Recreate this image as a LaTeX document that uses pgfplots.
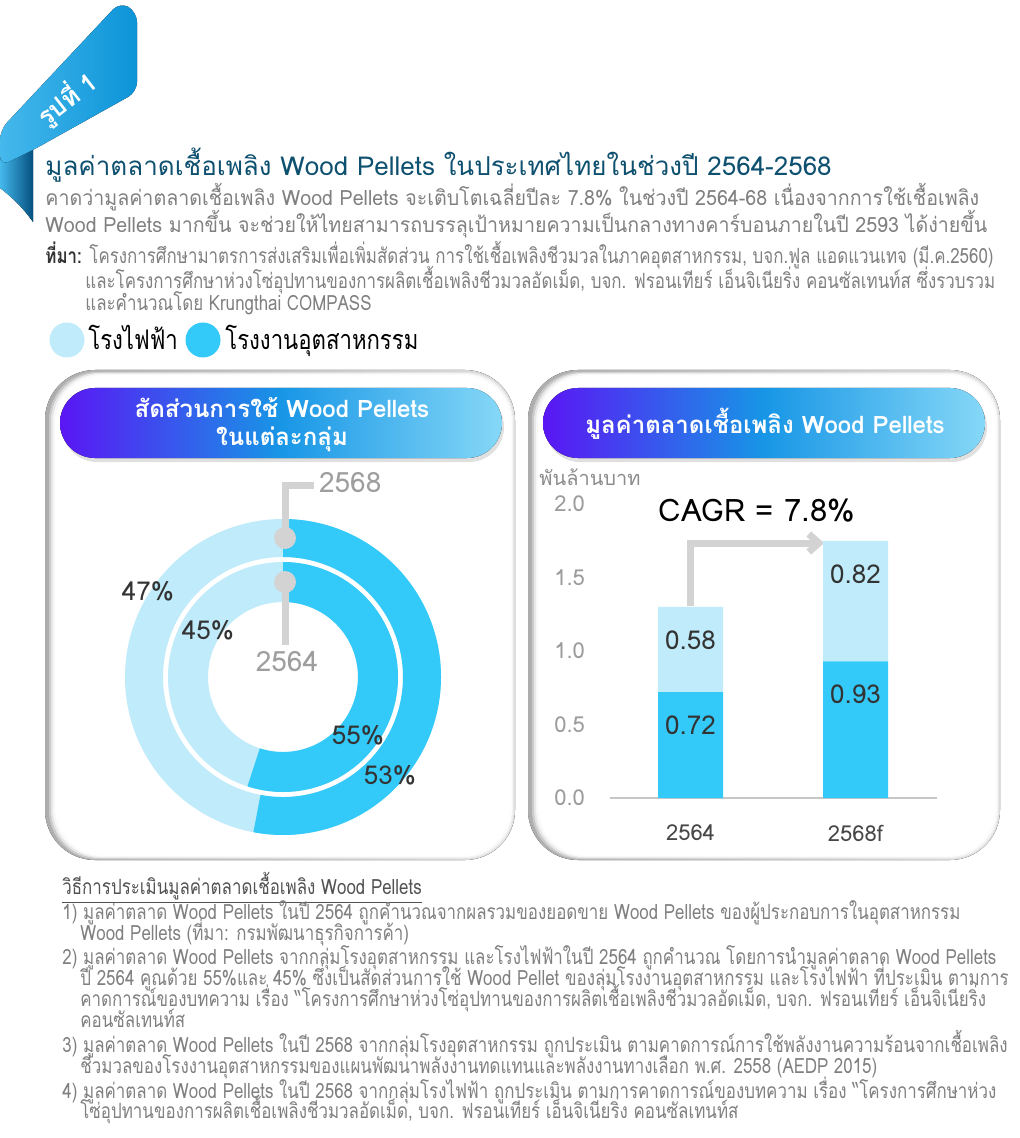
\documentclass[border=0pt]{standalone}
\usepackage{fontspec}
\usepackage{pgfplots}
\pgfplotsset{compat=1.18}
\usetikzlibrary{arrows.meta}
\setmainfont[Script=Thai]{Loma}
\newfontfamily\thnarrow[Script=Thai,FakeStretch=0.805]{Loma}
\newfontfamily\thsub[Script=Thai,FakeStretch=0.935]{Loma}
\newfontfamily\thleg[Script=Thai,FakeStretch=0.82]{Loma}

\definecolor{titleblue}{HTML}{0E506F}
\definecolor{txtgray}{HTML}{808080}
\definecolor{darktxt}{HTML}{333333}
\definecolor{lightblue}{HTML}{BFEBFA}
\definecolor{indblue}{HTML}{33C9F8}
\definecolor{ribbon}{HTML}{0C94D8}
\definecolor{ribbonlight}{HTML}{45B8EC}
\definecolor{ribbondark}{HTML}{04507F}
\definecolor{gradL}{HTML}{5A16F4}
\definecolor{gradM}{HTML}{1796E6}
\definecolor{gradR}{HTML}{86D8F7}
\definecolor{leader}{HTML}{D3D3D3}
\definecolor{tickgray}{HTML}{9C9C9C}

% shares (%) of the industry group, 2564 inner ring / 2568 outer ring
\def\indOld{55}
\def\indNew{53}
\pgfmathsetmacro\eOld{90-3.6*\indOld}
\pgfmathsetmacro\eNew{90-3.6*\indNew}

\newcommand{\panel}[4]{%
  \fill[rounded corners=25pt,left color=black!32,right color=black!14] (#1,#2) rectangle (#3,#4);
  \foreach \k/\o in {0/0.35,2/0.55,4/0.75,6/0.9,8/1}{%
    \fill[white,opacity=\o,rounded corners=24pt] (#1+4+\k,#2+2+0.5*\k) rectangle (#3-1-0.5*\k,#4-1-0.5*\k);}
}
\newcommand{\pill}[4]{%
  \fill[black,opacity=0.12,rounded corners=17.5pt] (#1+2,#2+4) rectangle (#3+2,#4+4);
  \fill[rounded corners=17.5pt,left color=gradL,right color=gradR,middle color=gradM] (#1,#2) rectangle (#3,#4);
}

\begin{document}
\begin{tikzpicture}
\begin{scope}[x=0.5pt,y=-0.5pt]
\path[use as bounding box] (0,0) rectangle (1020,1138);
% ribbon
\fill[left color=ribbonlight,right color=ribbondark] (0,140) -- (33,146) -- (33,222) .. controls (22,206) and (8,194) .. (0,188) -- cycle;
\fill[left color=ribbonlight,right color=ribbon,rounded corners=5pt] (0,130) -- (120,2) -- (137,12) -- (137,92) -- (33,150) -- (0,166) -- cycle;
\node[white,rotate=38,font=\bfseries\fontsize{12.5}{12.5}\selectfont,inner sep=0] at (67,99) {รูปที่ 1};

% title block
\node[anchor=base west,titleblue,font=\fontsize{13}{13}\selectfont,inner sep=0] at (45,176) {มูลค่าตลาดเชื้อเพลิง Wood Pellets ในประเทศไทยในช่วงปี 2564-2568};
\node[anchor=base west,txtgray,font=\thsub\fontsize{10.5}{10.5}\selectfont,inner sep=0] at (45,206) {คาดว่ามูลค่าตลาดเชื้อเพลิง Wood Pellets จะเติบโตเฉลี่ยปีละ 7.8\% ในช่วงปี 2564-68 เนื่องจากการใช้เชื้อเพลิง};
\node[anchor=base west,txtgray,font=\thsub\fontsize{10.5}{10.5}\selectfont,inner sep=0] at (45,233) {Wood Pellets มากขึ้น จะช่วยให้ไทยสามารถบรรลุเป้าหมายความเป็นกลางทางคาร์บอนภายในปี 2593 ได้ง่ายขึ้น};
\begin{scope}[every node/.style={anchor=base west,txtgray,font=\thnarrow\fontsize{10.5}{10.5}\selectfont,inner sep=0}]
\node at (45,264) {\textcolor{darktxt}{\bfseries ที่มา:} โครงการศึกษามาตรการส่งเสริมเพื่อเพิ่มสัดส่วน การใช้เชื้อเพลิงชีวมวลในภาคอุตสาหกรรม, บจก.ฟูล แอดแวนเทจ (มี.ค.2560)};
\node at (85,289) {และโครงการศึกษาห่วงโซ่อุปทานของการผลิตเชื้อเพลิงชีวมวลอัดเม็ด, บจก. ฟรอนเทียร์ เอ็นจิเนียริ่ง คอนซัลเทนท์ส ซึ่งรวบรวม};
\node at (85,311) {และคำนวณโดย Krungthai COMPASS};
\end{scope}

% legend
\fill[lightblue] (67,340) circle[radius=8.75pt];
\node[anchor=base west,black,font=\thleg\fontsize{13.5}{13.5}\selectfont,inner sep=0] at (88,350) {โรงไฟฟ้า};
\fill[indblue] (203,340) circle[radius=8.75pt];
\node[anchor=base west,black,font=\thleg\fontsize{13.5}{13.5}\selectfont,inner sep=0] at (225,350) {โรงงานอุตสาหกรรม};

% panels
\panel{45}{370}{515}{860}
\panel{528}{370}{1000}{860}
\pill{60}{388}{502}{458}
\pill{543}{388}{985}{458}
\node[white,font=\bfseries\fontsize{12}{14}\selectfont,align=center] at (282,425) {สัดส่วนการใช้ Wood Pellets\\ในแต่ละกลุ่ม};
\node[white,font=\bfseries\fontsize{12}{14}\selectfont] at (765,424) {มูลค่าตลาดเชื้อเพลิง Wood Pellets};
\end{scope}

% donut: inner ring 2564, outer ring 2568
\begin{axis}[at={(141.5pt,-338.5pt)},anchor=center,width=160pt,height=160pt,scale only axis,
  xmin=-160,xmax=160,ymin=-160,ymax=160,hide axis,clip=false]
\coordinate (C) at (axis cs:0,0);
\fill[lightblue,even odd rule] (C) circle[radius=79pt] (C) circle[radius=60pt];
\fill[indblue] ([shift={(90:79pt)}]C) arc[start angle=90,end angle=\eNew,radius=79pt]
  -- ([shift={(\eNew:60pt)}]C) arc[start angle=\eNew,end angle=90,radius=60pt] -- cycle;
\fill[lightblue,even odd rule] (C) circle[radius=57.5pt] (C) circle[radius=37.5pt];
\fill[indblue] ([shift={(90:57.5pt)}]C) arc[start angle=90,end angle=\eOld,radius=57.5pt]
  -- ([shift={(\eOld:37.5pt)}]C) arc[start angle=\eOld,end angle=90,radius=37.5pt] -- cycle;
\end{axis}

\begin{scope}[x=0.5pt,y=-0.5pt]
\draw[leader,line width=3.5pt] (285,538) -- (285,485) -- (314,485);
\draw[leader,line width=3.5pt] (285,582) -- (285,645);
\fill[leader] (285,538) circle[radius=5.5pt];
\fill[leader] (285,582) circle[radius=5.5pt];
\node[anchor=west,color=black!38,font=\fontsize{14}{14}\selectfont] at (312,483) {2568};
\node[color=black!38,font=\fontsize{14}{14}\selectfont] at (287,662) {2564};
\begin{scope}[every node/.style={darktxt,font=\fontsize{13}{13}\selectfont}]
\node at (148,591) {47\%};
\node at (208,630) {45\%};
\node at (358,735) {55\%};
\node at (390,775) {53\%};
\end{scope}
% CAGR arrow
\draw[leader,line width=3.5pt,-{Straight Barb[length=5pt,width=9pt]}] (690,606) -- (690,543) -- (824,543);
\node[black,font=\fontsize{15.5}{15.5}\selectfont] at (757,511) {CAGR = 7.8\%};
\node[color=black!45,font=\fontsize{10}{10}\selectfont] at (590,477) {พันล้านบาท};
\end{scope}

% market value bars (thousand million baht)
\begin{axis}[at={(305pt,-399pt)},anchor=south west,width=163.5pt,height=147pt,scale only axis,
  xmin=-0.488,xmax=1.494,ymin=0,ymax=2,
  ybar stacked,bar width=32.5pt,
  axis x line*=bottom,axis y line*=left,
  x axis line style={draw=black!22,line width=1pt},y axis line style={draw=none},
  major tick length=0pt,
  xtick={0,1},xticklabels={2564,2568f},
  ytick={0,0.5,1,1.5,2},
  yticklabel style={/pgf/number format/fixed,/pgf/number format/fixed zerofill,/pgf/number format/precision=1,color=tickgray,font=\fontsize{11}{11}\selectfont,xshift=-9pt},
  xticklabel style={color=darktxt!90,font=\fontsize{11}{11}\selectfont,yshift=-10pt},
  /pgf/number format/assume math mode=true,
  point meta=explicit symbolic,
  nodes near coords,
  visualization depends on={rawy \as \ry},
  every node near coord/.style={anchor=center,yshift={\ry*36.75pt-16.5pt},color=darktxt,font=\fontsize{13}{13}\selectfont},
  clip=false]
\addplot[fill=indblue,draw=none] coordinates {(0,0.72) [0.72] (1,0.93) [0.93]};
\addplot[fill=lightblue,draw=none] coordinates {(0,0.58) [0.58] (1,0.82) [0.82]};
\end{axis}

% notes
\begin{scope}[x=0.5pt,y=-0.5pt,every node/.style={anchor=base west,txtgray,font=\thnarrow\fontsize{10.5}{10.5}\selectfont,inner sep=0}]
\node[color=darktxt!85] at (62,894) {\underline{วิธีการประเมินมูลค่าตลาดเชื้อเพลิง Wood Pellets}};
\node at (62,919) {1) มูลค่าตลาด Wood Pellets ในปี 2564 ถูกคำนวณจากผลรวมของยอดขาย Wood Pellets ของผู้ประกอบการในอุตสาหกรรม};
\node at (80,940) {Wood Pellets (ที่มา: กรมพัฒนาธุรกิจการค้า)};
\node at (62,964) {2) มูลค่าตลาด Wood Pellets จากกลุ่มโรงอุตสาหกรรม และโรงไฟฟ้าในปี 2564 ถูกคำนวณ โดยการนำมูลค่าตลาด Wood Pellets};
\node at (80,985) {ปี 2564 คูณด้วย 55\%และ 45\% ซึ่งเป็นสัดส่วนการใช้ Wood Pellet ของลุ่มโรงงานอุตสาหกรรม และโรงไฟฟ้า ที่ประเมิน ตามการ};
\node at (80,1006) {คาดการณ์ของบทความ เรื่อง “โครงการศึกษาห่วงโซ่อุปทานของการผลิตเชื้อเพลิงชีวมวลอัดเม็ด, บจก. ฟรอนเทียร์ เอ็นจิเนียริ่ง};
\node at (80,1027) {คอนซัลเทนท์ส};
\node at (62,1052) {3) มูลค่าตลาด Wood Pellets ในปี 2568 จากกลุ่มโรงอุตสาหกรรม ถูกประเมิน ตามคาดการณ์การใช้พลังงานความร้อนจากเชื้อเพลิง};
\node at (80,1073) {ชีวมวลของโรงงานอุตสาหกรรมของแผนพัฒนาพลังงานทดแทนและพลังงานทางเลือก พ.ศ. 2558 (AEDP 2015)};
\node at (62,1098) {4) มูลค่าตลาด Wood Pellets ในปี 2568 จากกลุ่มโรงไฟฟ้า ถูกประเมิน ตามการคาดการณ์ของบทความ เรื่อง “โครงการศึกษาห่วง};
\node at (80,1118) {โซ่อุปทานของการผลิตเชื้อเพลิงชีวมวลอัดเม็ด, บจก. ฟรอนเทียร์ เอ็นจิเนียริ่ง คอนซัลเทนท์ส};
\end{scope}
\end{tikzpicture}
\end{document}
